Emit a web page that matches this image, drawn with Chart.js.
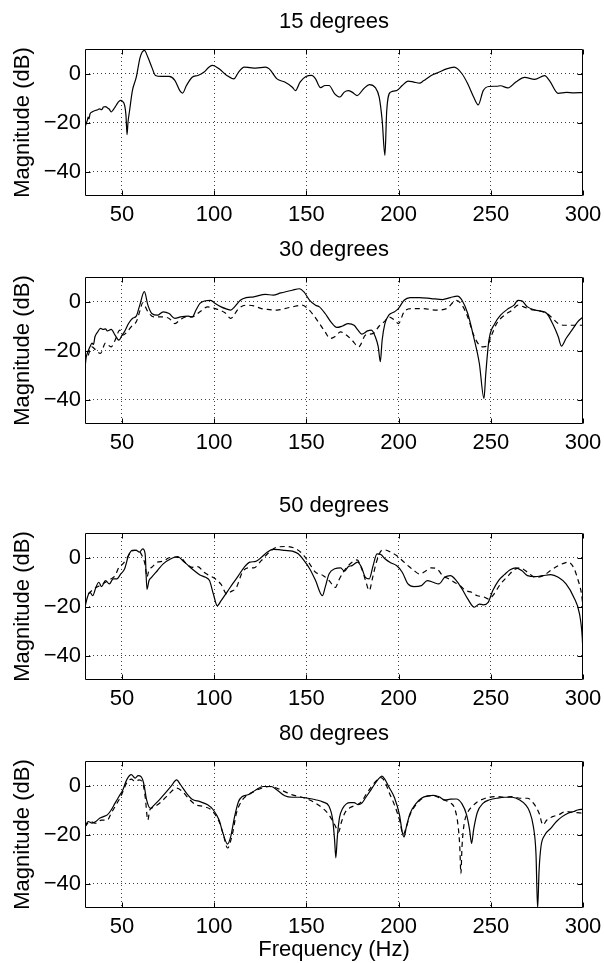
<!DOCTYPE html>
<html>
<head>
<meta charset="utf-8">
<script src="https://cdn.jsdelivr.net/npm/chart.js@4.4.1/dist/chart.umd.min.js"></script>
<style>
  html, body { margin: 0; padding: 0; background: #fff; }
  body { width: 604px; height: 963px; position: relative; overflow: hidden; }
  canvas { position: absolute; left: 0; }
</style>
</head>
<body>
<canvas id="c15" width="604" height="218" style="top:9px"></canvas>
<canvas id="c30" width="604" height="218" style="top:237px"></canvas>
<canvas id="c50" width="604" height="218" style="top:493px"></canvas>
<canvas id="c80" width="604" height="242" style="top:721px"></canvas>
<script>
// axis ticks
const xTicks = [50, 100, 150, 200, 250, 300];
const yTicks = [-40, -20, 0];

// 15 degrees (solid only)
const freq15 = [30.0, 30.6, 31.3, 31.7, 32.2, 32.7, 33.8, 34.8, 35.9, 36.9, 37.9, 39.0, 40.0, 41.1, 42.1, 43.2, 44.2, 45.3, 46.3, 47.3, 48.4, 49.4, 50.1, 51.5, 52.2, 52.8, 53.3, 54.2, 55.7, 57.8, 59.9, 62.2, 64.1, 66.2, 68.2, 71.4, 75.6, 78.7, 81.4, 82.9, 85.0, 88.1, 91.2, 94.4, 97.5, 99.2, 102.7, 106.9, 110.7, 113.2, 116.3, 119.4, 122.6, 127.8, 129.9, 134.1, 138.3, 142.4, 144.1, 146.6, 149.8, 152.9, 155.0, 157.7, 160.2, 162.3, 165.4, 168.2, 170.6, 172.7, 174.8, 177.5, 181.1, 184.2, 187.4, 189.5, 191.1, 192.6, 193.6, 195.7, 198.9, 202.0, 205.1, 208.3, 211.4, 213.5, 217.7, 221.8, 226.0, 230.2, 234.4, 237.5, 240.7, 243.2, 245.9, 249.0, 253.2, 255.3, 259.3, 263.6, 268.4, 273.8, 279.2, 282.0, 286.5, 291.0, 295.0, 300.0];
const mag15 = [-22, -20.5, -19, -17.8, -18.5, -16.5, -15.7, -15.3, -15, -14.8, -14.4, -14.8, -13.7, -13.5, -14, -14.6, -15.7, -14.8, -13.7, -12.5, -11.4, -11, -11.2, -13, -17, -25, -20, -15, -7, -1.5, 6.6, 9.4, 6.6, 2.6, -0.8, -1.2, -1.2, -2.8, -7, -8, -4.9, -1.5, -0.8, 0.5, 2.8, 3.3, 1.9, -0.8, -2.2, 0.5, 2.6, 2.4, 2.2, 2.6, 1.9, -2.2, -3.5, -5.6, -7, -3.5, -1.2, -0.8, -2.2, -5.8, -4.9, -4.9, -8.3, -9.6, -7.6, -7, -7.6, -9, -6.2, -4.5, -5.8, -9.6, -19, -33.4, -15, -7.6, -7, -4.9, -3.1, -3.5, -3.9, -3, -0.8, 0.5, 1.9, 2.6, -0.1, -4.2, -9.6, -12.8, -7, -5.3, -5.2, -5, -5.9, -3.5, -1.6, -2.4, -0.9, -3.1, -8.1, -7.7, -7.9, -7.8];

// 30 degrees
const freq30solid = [30.0, 30.6, 31.3, 32.1, 32.7, 33.8, 34.6, 35.4, 36.9, 38.4, 40.0, 41.1, 42.1, 44.2, 46.3, 48.4, 50.1, 51.5, 53.6, 55.7, 57.8, 59.5, 62.2, 64.1, 66.2, 69.3, 72.4, 75.6, 78.7, 81.8, 86.0, 88.1, 90.2, 92.3, 95.4, 98.1, 100.6, 103.8, 106.9, 109.0, 111.1, 114.2, 117.4, 121.5, 127.8, 132.0, 136.2, 142.4, 146.2, 148.7, 151.8, 155.0, 157.1, 160.2, 163.3, 166.5, 169.6, 172.7, 175.9, 178.0, 180.1, 183.2, 185.3, 187.4, 189.0, 190.1, 191.1, 192.6, 194.7, 197.8, 199.9, 203.0, 206.2, 211.4, 217.7, 223.9, 228.1, 231.9, 234.4, 237.5, 240.7, 243.8, 246.3, 247.3, 249.0, 252.2, 255.3, 259.5, 262.6, 264.7, 266.8, 269.9, 274.1, 277.2, 280.4, 283.5, 286.6, 288.3, 290.8, 294.0, 297.1, 300.0];
const mag30solid = [-27.3, -23, -21, -19.5, -18.5, -17, -17.5, -14.4, -12.4, -11, -11.4, -11.2, -12, -11.4, -13.7, -15.8, -13.7, -12.2, -9, -6.9, -6, -2, 4, -1.5, -4.9, -5.6, -4.2, -4.9, -6.9, -6.3, -6, -6.3, -3.5, -0.8, 0.3, 0.5, -0.8, -2.2, -3.1, -3.5, -2.2, 0.5, 1.6, 1.9, 2.9, 2.6, 3.5, 4.6, 5.2, 3.9, 0.5, -1.5, -2.2, -4.9, -8.3, -10.6, -10, -9, -9.7, -11.7, -13.3, -12, -11.7, -14.4, -18.5, -24.6, -15.8, -9, -5.6, -4.2, -2.9, 0.5, 1.6, 1.6, 1.2, 0.8, 1.6, 2.2, 0.5, -4.9, -14.4, -25.3, -39.6, -29.4, -15.8, -9, -5.6, -2.9, -1.5, 0.5, 0.3, -2.2, -3.5, -3.9, -4.9, -9, -14.4, -18.2, -15.1, -11.7, -8.3, -6.3];
const freq30dash = [31.7, 33.8, 35.9, 38.4, 41.1, 44.2, 46.3, 48.8, 50.5, 53.6, 55.7, 57.8, 59.9, 61.3, 62.6, 64.1, 67.2, 71.4, 75.6, 78.7, 81.8, 85.0, 88.1, 92.3, 96.5, 100.6, 105.9, 109.0, 113.2, 117.4, 121.5, 125.7, 129.9, 134.1, 138.3, 142.4, 147.7, 150.8, 153.9, 157.1, 160.2, 162.9, 165.4, 168.6, 171.7, 174.8, 178.4, 182.1, 186.3, 189.5, 192.6, 194.7, 197.8, 199.9, 203.0, 207.2, 213.5, 219.8, 226.0, 231.3, 234.4, 237.5, 240.7, 243.8, 245.9, 248.0, 250.1, 253.2, 257.4, 261.6, 264.7, 267.8, 272.0, 276.2, 280.4, 283.5, 286.6, 289.8, 295.0, 300.0];
const mag30dash = [-22, -18.5, -19.9, -21.2, -17, -18.5, -15.8, -11.7, -13.7, -11.7, -9.7, -8.3, -3.5, -0.5, -2, -4.2, -6.3, -6.3, -6.9, -9, -7.3, -6.3, -6.3, -4.2, -2.2, -2.9, -4.6, -6.9, -2.9, -1.5, -1.8, -2.9, -3.3, -3.5, -2.9, -2.2, -1.5, -2.9, -5.6, -9, -12.4, -15.1, -14.4, -12.4, -13.7, -15.8, -18.5, -13.7, -13, -10, -8, -6.3, -7.6, -9, -4.2, -2.9, -2.9, -3.5, -2.9, 0.5, -1.5, -6.3, -13.7, -17.8, -18.5, -18.2, -14.4, -9, -5.6, -3.5, -1.5, -2.2, -3.3, -3.8, -4.9, -6.9, -9, -9.7, -9.7, -9.7];

// 50 degrees
const freq50solid = [30.0, 31.3, 32.7, 34.2, 35.9, 37.5, 39.0, 41.1, 43.2, 45.3, 47.3, 49.4, 51.5, 53.6, 55.7, 57.8, 59.5, 61.3, 62.6, 63.6, 64.7, 66.2, 69.3, 72.4, 76.6, 80.2, 82.9, 86.0, 89.1, 92.3, 95.4, 97.5, 99.6, 101.7, 103.8, 106.9, 110.0, 113.2, 116.3, 119.4, 122.6, 125.7, 128.9, 132.0, 135.1, 138.3, 142.4, 145.6, 148.7, 151.8, 155.0, 158.7, 160.2, 162.3, 165.4, 168.6, 170.6, 172.7, 174.8, 177.8, 179.9, 182.0, 184.1, 186.2, 188.3, 190.4, 192.6, 195.7, 198.9, 202.0, 205.1, 208.3, 212.4, 215.6, 218.7, 221.8, 225.0, 228.1, 231.3, 234.4, 237.5, 241.1, 243.8, 245.9, 248.6, 251.1, 254.2, 257.4, 260.5, 263.6, 266.8, 269.9, 274.1, 278.3, 282.5, 286.6, 290.8, 295.0, 298.1, 299.6, 300.0];
const mag50solid = [-20.3, -16.2, -14.2, -15.6, -12.2, -10.1, -11.9, -9.4, -10.8, -8.7, -8.7, -6.7, -4.6, 0.8, 2.9, 2.9, 2.2, 3.5, 1.5, -13, -9.4, -8, -5.3, -2.6, -0.5, 0.4, -1.2, -3.3, -5.3, -7.1, -8.1, -9.4, -14.9, -19.7, -17.6, -14.2, -10.8, -7.4, -4, -1.9, -1.6, 0.1, 2.2, 3.3, 3.2, 2.9, 2.6, 1.5, -1.2, -4.6, -9.4, -15.6, -12.2, -6.7, -4.6, -4.2, -5.6, -3.8, -3.3, -1.9, -4, -8.1, -8.7, -3.3, 1.5, 1.2, -0.5, -2.1, -3.3, -6, -10.8, -11.9, -11.5, -9.4, -10.1, -10.8, -8.1, -7.4, -9.4, -12.8, -16.9, -20.3, -19, -19.3, -18.3, -13.5, -9.4, -7, -5, -4.2, -5.3, -7.4, -7.8, -7.4, -7, -8.1, -10.8, -16.2, -23, -32.6, -39.5];
const freq50dash = [31.7, 34.8, 37.9, 41.1, 44.2, 46.3, 48.4, 50.5, 52.6, 54.7, 56.8, 58.8, 60.9, 62.6, 63.6, 64.7, 66.2, 69.3, 72.4, 75.6, 78.7, 81.8, 85.0, 88.1, 91.2, 94.4, 97.5, 100.6, 103.8, 106.9, 109.0, 112.1, 115.3, 118.4, 121.5, 125.7, 129.9, 134.1, 139.3, 144.5, 148.7, 151.8, 155.0, 159.2, 162.3, 165.8, 167.5, 170.6, 172.7, 177.5, 180.0, 182.1, 184.1, 186.0, 188.0, 190.8, 192.6, 195.7, 198.9, 202.0, 205.1, 208.3, 211.4, 214.5, 217.7, 220.8, 223.9, 227.1, 230.2, 233.3, 236.5, 239.6, 242.7, 245.9, 249.0, 251.1, 255.3, 259.5, 262.6, 265.7, 269.9, 274.1, 278.3, 282.5, 286.6, 289.8, 291.9, 295.0, 297.1, 299.2, 300.0];
const mag50dash = [-14.9, -12.8, -11.5, -10.1, -8.7, -7.4, -4, -2.6, -0.5, 2.2, 2.9, 2.9, 0.8, -3, -8, -5, -4, -1.9, -1.5, -0.1, 0.1, -0.1, -2.6, -4, -3.7, -6, -7.4, -8.7, -11, -14.9, -14, -12.2, -6, -4.2, -4.2, -1.2, 2.2, 4.2, 4.5, 3.5, 0.8, -2.6, -6, -7.4, -9.4, -12.2, -9.4, -5.3, -3.3, -1, -4.6, -9.4, -13.5, -8, -1.9, 2.9, 3.1, 2.2, 0.8, -1.2, -3.3, -5.3, -6.7, -5.6, -4.2, -4.6, -7.4, -8.7, -10.1, -11.5, -13.5, -14.2, -15.6, -16, -17, -15.6, -10.8, -7.4, -5, -4.2, -6, -8.1, -7.4, -5.3, -3.3, -2.3, -1.9, -4.2, -8.7, -14.9, -20.3];

// 80 degrees
const freq80solid = [30.0, 31.7, 33.8, 35.9, 37.9, 40.0, 42.1, 44.2, 46.3, 48.4, 50.5, 52.6, 55.1, 57.2, 58.8, 60.5, 62.0, 63.4, 65.5, 67.6, 70.3, 73.5, 76.6, 79.7, 81.8, 85.0, 88.1, 92.3, 96.5, 99.6, 102.7, 104.8, 107.3, 109.0, 111.1, 113.2, 115.3, 118.4, 122.6, 126.8, 130.9, 134.1, 138.3, 142.4, 146.6, 150.8, 155.0, 159.2, 162.3, 164.3, 165.3, 166.0, 166.8, 168.0, 169.6, 171.7, 173.8, 175.9, 178.0, 180.1, 182.1, 185.3, 187.4, 189.5, 191.0, 192.6, 194.7, 197.8, 200.5, 202.0, 203.0, 204.2, 206.2, 209.3, 212.4, 216.0, 219.0, 222.0, 225.0, 228.1, 231.3, 234.4, 236.9, 238.5, 239.6, 240.7, 242.7, 245.9, 249.0, 253.2, 257.4, 261.6, 265.7, 268.9, 271.0, 273.1, 274.5, 275.4, 276.2, 277.2, 279.3, 282.5, 285.6, 288.7, 291.9, 295.0, 297.1, 300.0];
const mag80solid = [-16.8, -14.7, -15.4, -14.7, -13.4, -12.7, -12, -10, -7.2, -4.5, -1.8, 2.3, 4.4, 3, 4, 3.5, 0.3, -5.9, -9.3, -7.9, -5.9, -3.1, -0.4, 2.3, 0.3, -3.1, -5.6, -6.6, -7.9, -10, -14.1, -19.5, -23.9, -20.9, -12.7, -6.6, -4.5, -3.8, -1.8, -0.4, -0.4, -1.8, -4.2, -4.8, -4.8, -5.2, -5.8, -6.8, -8.5, -14, -22, -29.5, -21, -13, -9.5, -7.5, -7, -7, -7.8, -7.2, -5, -1.5, 1, 3, 3.8, 2.5, -0.5, -5, -12, -19, -21, -17, -11.5, -7.5, -5.2, -4.2, -4, -4.6, -5.9, -5.6, -5.5, -7.5, -12, -18, -23.6, -18, -11, -7.2, -5.9, -5.2, -4.8, -4.8, -5.9, -7.9, -10.6, -16.8, -27.7, -50, -34.5, -25, -20.2, -17.5, -14.7, -12.7, -11.3, -10.6, -10, -9.7];
const freq80dash = [30.0, 32.7, 35.9, 39.0, 42.1, 44.2, 46.3, 49.4, 52.6, 55.1, 57.2, 59.3, 61.3, 62.6, 64.1, 65.1, 67.2, 71.4, 75.6, 79.7, 82.9, 86.0, 90.2, 94.4, 98.5, 102.7, 104.8, 107.3, 110.0, 112.1, 115.3, 118.4, 121.5, 125.7, 129.9, 134.1, 138.3, 142.4, 147.7, 151.8, 155.0, 159.2, 162.3, 165.4, 167.5, 169.0, 171.0, 173.8, 177.0, 180.1, 182.1, 185.3, 188.0, 190.5, 192.6, 194.7, 197.8, 200.5, 202.5, 204.2, 206.2, 209.3, 212.4, 216.0, 219.0, 222.0, 225.0, 228.1, 230.5, 232.2, 233.2, 233.8, 234.4, 235.5, 237.5, 240.0, 243.0, 246.0, 249.0, 253.2, 257.4, 261.6, 265.7, 269.9, 273.1, 276.2, 278.3, 280.4, 283.5, 286.6, 290.8, 295.0, 300.0];
const mag80dash = [-16.8, -14.7, -15.4, -14.1, -14.1, -11.3, -8.6, -4.5, 1, 2.6, 1.6, 2.3, 1, -4.5, -14.1, -10, -8.9, -6.6, -3.4, -1.1, -2.5, -5.2, -7.9, -8.6, -10, -14.7, -19.5, -25.5, -19.5, -11.3, -5.9, -3.8, -2.5, -1.1, -0.4, -1.1, -2.5, -3.8, -4.8, -5.9, -7.2, -9.5, -12, -16, -19, -15, -11, -9, -8, -6.5, -4, -0.5, 2, 3.2, 1.5, -2.5, -8, -14, -20, -17, -12, -8, -5.5, -4.3, -4.2, -5, -6, -7, -9.5, -16, -25, -36, -25, -16, -11, -8.5, -6.5, -5.5, -4.8, -4.5, -4.8, -4.5, -5.2, -5.2, -7.2, -11.3, -16.1, -14.1, -12.7, -12, -10.6, -11, -11.3];

Chart.defaults.font.family = '"Liberation Sans", Arial, Helvetica, sans-serif';
Chart.defaults.font.size = 22;
Chart.defaults.font.lineHeight = 1.2;
Chart.defaults.color = '#000';

// closed box around the plot area with inward MATLAB-style ticks
const boxPlugin = {
  id: 'box',
  afterDatasetsDraw(chart) {
    const { ctx, chartArea: a, scales: { x, y } } = chart;
    const L = a.left + 0.5, R = a.right - 0.5, T = a.top + 0.5, B = a.bottom - 0.5;
    ctx.save();
    ctx.strokeStyle = '#000';
    ctx.lineWidth = 1;
    ctx.setLineDash([]);
    ctx.beginPath();
    ctx.rect(L, T, R - L, B - T);
    xTicks.forEach(v => {
      const px = Math.round(x.getPixelForValue(v)) + 0.5;
      ctx.moveTo(px, B); ctx.lineTo(px, B - 5);
      ctx.moveTo(px, T); ctx.lineTo(px, T + 5);
    });
    yTicks.forEach(v => {
      const py = Math.round(y.getPixelForValue(v)) + 0.5;
      ctx.moveTo(L, py); ctx.lineTo(L + 5, py);
      ctx.moveTo(R, py); ctx.lineTo(R - 5, py);
    });
    ctx.stroke();
    ctx.restore();
  }
};

function makeChart(id, title, series, xTitle) {
  const datasets = series.map(s => ({
    data: s.freq.map((f, i) => ({ x: f, y: s.mag[i] })),
    borderColor: '#000',
    borderWidth: 1.2,
    borderDash: s.dashed ? [5, 4] : [],
    pointRadius: 0,
    fill: false,
    cubicInterpolationMode: 'monotone'
  }));

  return new Chart(document.getElementById(id), {
    type: 'line',
    data: { datasets },
    plugins: [boxPlugin],
    options: {
      responsive: false,
      animation: false,
      events: [],
      layout: { padding: { left: 0, right: 21, top: 0, bottom: 0 } },
      plugins: {
        legend: { display: false },
        tooltip: { enabled: false },
        title: {
          display: true,
          text: title,
          fullSize: false,
          font: { size: 22, weight: 'normal' },
          color: '#000',
          padding: { top: 0, bottom: 13.6 }
        }
      },
      scales: {
        x: {
          type: 'linear',
          min: 30,
          max: 300,
          afterBuildTicks: sc => { sc.ticks = xTicks.map(v => ({ value: v })); },
          afterFit: sc => {
            sc.height = xTitle ? 55 : 31;
            sc.paddingLeft = 0;
            sc.paddingRight = 0;
          },
          ticks: { padding: 6, maxRotation: 0, autoSkip: false },
          grid: {
            drawTicks: false,
            lineWidth: 1,
            color: c => (c.tick && c.tick.value === 300) ? 'rgba(0,0,0,0)' : 'rgba(0,0,0,0.75)'
          },
          border: { display: false, dash: [1, 3] },
          title: {
            display: !!xTitle,
            text: xTitle || '',
            font: { size: 22 },
            padding: { top: 0, bottom: 0 }
          }
        },
        y: {
          type: 'linear',
          min: -50,
          max: 10,
          afterBuildTicks: sc => { sc.ticks = yTicks.map(v => ({ value: v })); },
          afterFit: sc => {
            sc.width = 85;
            sc.paddingTop = 0;
            sc.paddingBottom = 0;
          },
          ticks: {
            padding: 4,
            callback: v => (v < 0 ? '\u2212' + Math.abs(v) : String(v))
          },
          grid: { drawTicks: false, lineWidth: 1, color: 'rgba(0,0,0,0.75)' },
          border: { display: false, dash: [1, 3] },
          title: {
            display: true,
            text: 'Magnitude (dB)',
            font: { size: 22 },
            padding: { top: 10, bottom: 0 }
          }
        }
      }
    }
  });
}

makeChart('c15', '15 degrees', [
  { freq: freq15, mag: mag15, dashed: false }
]);
makeChart('c30', '30 degrees', [
  { freq: freq30dash, mag: mag30dash, dashed: true },
  { freq: freq30solid, mag: mag30solid, dashed: false }
]);
makeChart('c50', '50 degrees', [
  { freq: freq50dash, mag: mag50dash, dashed: true },
  { freq: freq50solid, mag: mag50solid, dashed: false }
]);
makeChart('c80', '80 degrees', [
  { freq: freq80dash, mag: mag80dash, dashed: true },
  { freq: freq80solid, mag: mag80solid, dashed: false }
], 'Frequency (Hz)');
</script>
</body>
</html>
